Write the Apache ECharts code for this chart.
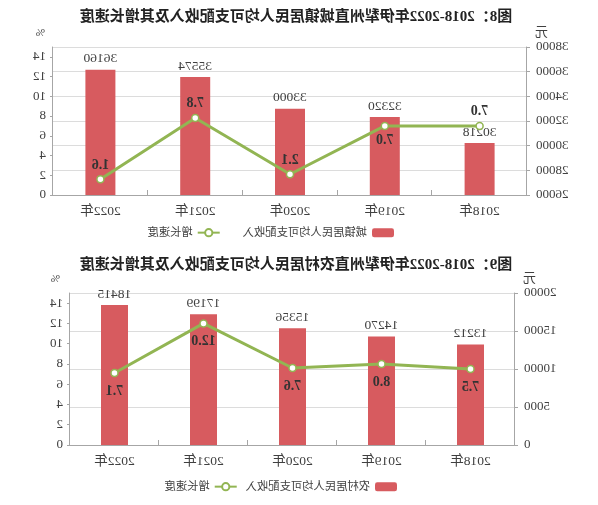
<!DOCTYPE html>
<html>
<head>
<meta charset="utf-8">
<script src="https://cdn.jsdelivr.net/npm/echarts@6/dist/echarts.min.js"></script>
<style>
  html, body { margin: 0; padding: 0; background: #fff; }
  /* the reference picture is a mirror image, so the whole page is flipped */
  #chart-panel { width: 598px; height: 505px; transform: scaleX(-1); }
</style>
</head>
<body>
<div id="chart-panel"></div>
<script>
var years = ['2018年', '2019年', '2020年', '2021年', '2022年'];

// 图8 城镇
var urbanIncome = [30218, 32320, 33000, 35574, 36160];
var urbanGrowth = [7.0, 7.0, 2.1, 7.8, 1.6];

// 图9 农村
var ruralIncome = [13212, 14270, 15356, 17199, 18415];
var ruralGrowth = [7.5, 8.0, 7.6, 12.0, 7.1];

var titles = [
    '图8：2018-2022年伊犁州直城镇居民人均可支配收入及其增长速度',
    '图9：2018-2022年伊犁州直农村居民人均可支配收入及其增长速度'
];
var barNames = ['城镇居民人均可支配收入', '农村居民人均可支配收入'];
var lineName = '增长速度';

(function () {
    var myChart = echarts.init(document.querySelector('#chart-panel'));

    var font = '"Liberation Serif", "Noto Sans CJK SC", serif';
    var textColor = '#404040';
    var axisColor = '#a6a6a6';
    var barColor = '#d75b5f';
    var lineColor = '#92b553';

    function catAxis(gridIndex) {
        return {
            type: 'category',
            gridIndex: gridIndex,
            data: years,
            axisLine: { lineStyle: { color: axisColor } },
            axisTick: { show: true, inside: true, length: 5, lineStyle: { color: axisColor } },
            axisLabel: { color: textColor, fontSize: 13.5, fontFamily: font, margin: 10 }
        };
    }

    function moneyAxis(gridIndex, min, max, interval, namePad) {
        return {
            type: 'value',
            gridIndex: gridIndex,
            min: min,
            max: max,
            interval: interval,
            name: '元',
            nameGap: 8,
            nameTextStyle: { color: textColor, fontSize: 13, fontFamily: font, align: 'right', padding: namePad },
            axisLine: { show: true, lineStyle: { color: axisColor } },
            axisTick: { show: true, length: 3, lineStyle: { color: axisColor } },
            axisLabel: {
                color: textColor, fontSize: 13, fontFamily: font, margin: 9,
                formatter: function (v) { return String(v); }
            },
            splitLine: { lineStyle: { color: '#dcdcdc' } }
        };
    }

    function rateAxis(gridIndex, namePad) {
        return {
            type: 'value',
            gridIndex: gridIndex,
            position: 'right',
            min: 0,
            max: 15,
            interval: 2,
            name: '%',
            nameGap: 8,
            nameTextStyle: { color: textColor, fontSize: 11, fontFamily: font, align: 'left', padding: namePad },
            axisLine: { show: true, lineStyle: { color: axisColor } },
            axisTick: { show: true, length: 3, lineStyle: { color: axisColor } },
            axisLabel: { color: textColor, fontSize: 13, fontFamily: font, margin: 7, showMaxLabel: false },
            splitLine: { show: false }
        };
    }

    function barSeries(idx, name, values, width) {
        return {
            name: name,
            type: 'bar',
            xAxisIndex: idx,
            yAxisIndex: idx * 2,
            barWidth: width,
            data: values,
            itemStyle: { color: barColor },
            label: {
                show: true,
                position: 'top',
                distance: 4,
                color: textColor,
                fontSize: 13.5,
                fontFamily: font
            }
        };
    }

    function lineSeries(idx, values, posFn, dist) {
        return {
            name: lineName,
            type: 'line',
            xAxisIndex: idx,
            yAxisIndex: idx * 2 + 1,
            data: values.map(function (v, i) {
                return { value: v, label: { position: posFn(i) } };
            }),
            symbol: 'circle',
            symbolSize: 7,
            lineStyle: { color: lineColor, width: 3 },
            itemStyle: { color: '#fff', borderColor: lineColor, borderWidth: 1.5 },
            label: {
                show: true,
                distance: dist,
                color: '#333',
                fontSize: 14,
                fontWeight: 'bold',
                fontFamily: font,
                formatter: function (p) { return p.value.toFixed(1); }
            },
            z: 5
        };
    }

    var titleStyle = { color: '#222', fontSize: 15, fontWeight: 'bold', fontFamily: font };
    var legendText = { color: textColor, fontSize: 11.3, fontFamily: font };

    var option = {
        animation: false,
        title: [
            { text: titles[0], left: 297, top: 5, textAlign: 'center', textStyle: titleStyle },
            { text: titles[1], left: 297, top: 253, textAlign: 'center', textStyle: titleStyle }
        ],
        legend: [
            { left: 199, top: 222, itemWidth: 22, itemHeight: 9, itemGap: 22, textStyle: legendText,
              data: [barNames[0], lineName] },
            { left: 196, top: 476, itemWidth: 22, itemHeight: 9, itemGap: 8, textStyle: legendText,
              data: [barNames[1], lineName] }
        ],
        grid: [
            { left: 71, right: 53, top: 47, bottom: 310 },
            { left: 83, right: 70, top: 293, bottom: 60 }
        ],
        xAxis: [catAxis(0), catAxis(1)],
        yAxis: [
            moneyAxis(0, 26000, 38000, 2000, [0, 8, 0, 0]),
            rateAxis(0, [0, 0, 0, 8]),
            moneyAxis(1, 0, 20000, 5000, [0, 8, 0, 0]),
            rateAxis(1, [0, 0, 0, 10])
        ],
        series: [
            barSeries(0, barNames[0], urbanIncome, 30),
            lineSeries(0, urbanGrowth, function (i) { return i === 1 ? 'bottom' : 'top'; }, 3),
            barSeries(1, barNames[1], ruralIncome, 27),
            lineSeries(1, ruralGrowth, function () { return 'bottom'; }, 7)
        ]
    };

    myChart.setOption(option);
})();
</script>
</body>
</html>
